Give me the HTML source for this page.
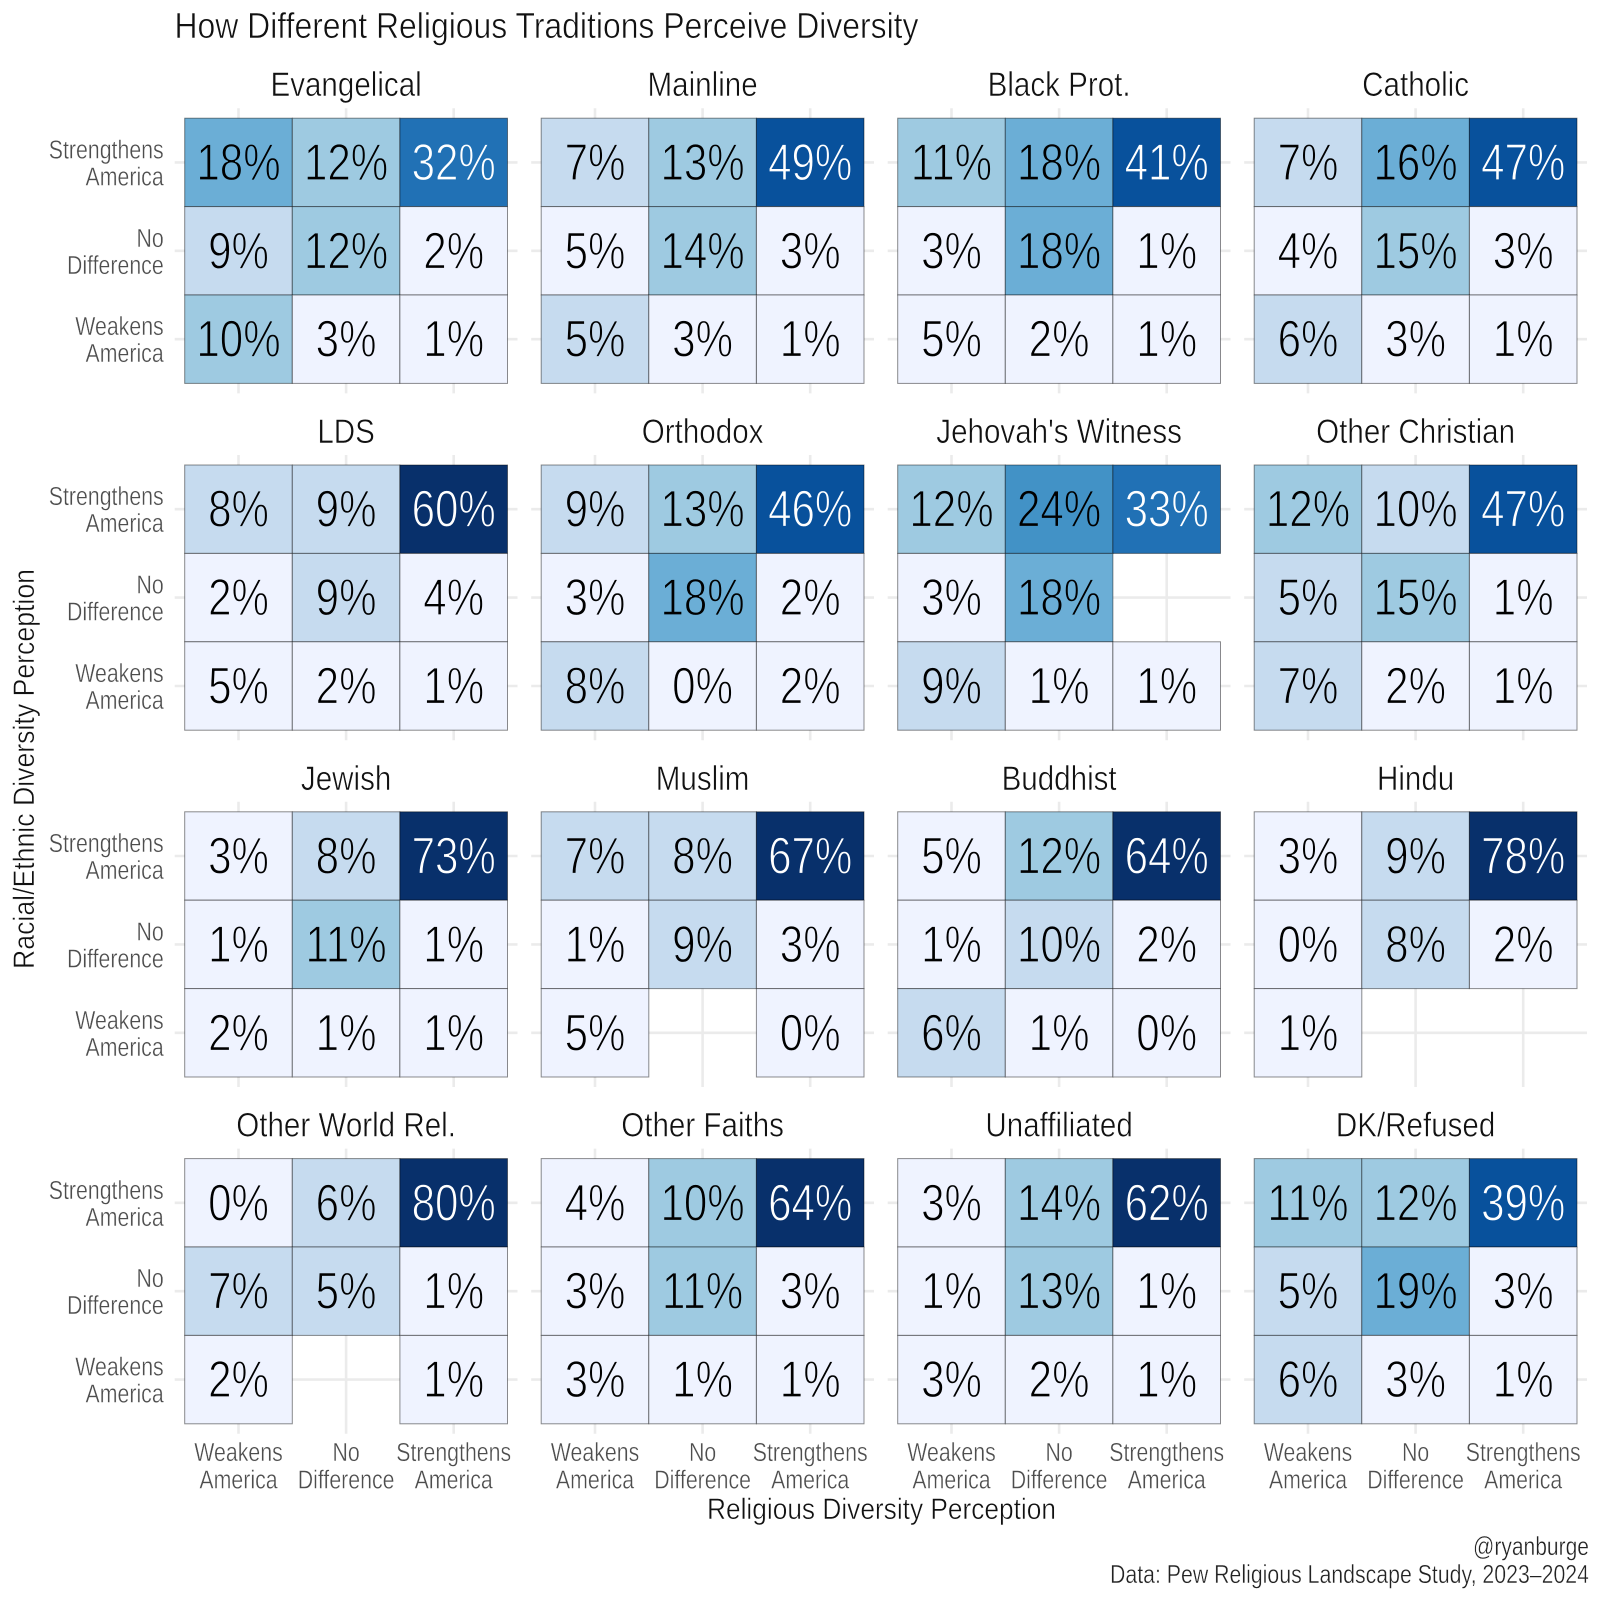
<!DOCTYPE html>
<html lang="en"><head><meta charset="utf-8"><title>How Different Religious Traditions Perceive Diversity</title>
<style>html,body{margin:0;padding:0;background:#fff}svg{display:block}text{font-family:"Liberation Sans",sans-serif}</style>
</head><body>
<svg id="chart" xmlns="http://www.w3.org/2000/svg" width="1600" height="1600" viewBox="0 0 1600 1600">
<rect width="1600" height="1600" fill="#fff"/>
<text x="174.5" y="38" font-size="36" fill="#111" textLength="744" lengthAdjust="spacingAndGlyphs" stroke="#fff" stroke-width=".6">How Different Religious Traditions Perceive Diversity</text>
<text x="881.5" y="1519" font-size="30" fill="#111" text-anchor="middle" textLength="349" lengthAdjust="spacingAndGlyphs" stroke="#fff" stroke-width=".5">Religious Diversity Perception</text>
<text transform="translate(34,769) rotate(-90)" font-size="30" fill="#111" text-anchor="middle" textLength="400" lengthAdjust="spacingAndGlyphs" stroke="#fff" stroke-width=".5">Racial/Ethnic Diversity Perception</text>
<text x="1589" y="1555" font-size="26" fill="#222" text-anchor="end" textLength="116" lengthAdjust="spacingAndGlyphs" stroke="#fff" stroke-width=".4">@ryanburge</text>
<text x="1589" y="1583" font-size="26" fill="#222" text-anchor="end" textLength="479" lengthAdjust="spacingAndGlyphs" stroke="#fff" stroke-width=".4">Data: Pew Religious Landscape Study, 2023–2024</text>
</svg>
<script>
const traditions = ["Evangelical","Mainline","Black Prot.","Catholic","LDS","Orthodox","Jehovah's Witness","Other Christian","Jewish","Muslim","Buddhist","Hindu","Other World Rel.","Other Faiths","Unaffiliated","DK/Refused"];
const xCategories = [["Weakens","America"],["No","Difference"],["Strengthens","America"]];
const yCategories = [["Strengthens","America"],["No","Difference"],["Weakens","America"]];
// Percent values per tradition: rows = racial perception (strengthens, no difference, weakens); columns = religious perception (weakens, no difference, strengthens)
const evangelical = [[18,12,32],[9,12,2],[10.2,3,1]];
const mainline = [[7,13,49],[4.8,14,3],[5.2,3,1]];
const blackProt = [[11,18,41],[3,18,1],[4.8,2,1]];
const catholic = [[7,16,47],[4,14.8,3],[6,3,1]];
const lds = [[8,9,60],[2,9,4],[4.8,2,1]];
const orthodox = [[9,13,46],[3,18,2],[8,0,2]];
const jehovahsWitness = [[12,24,33],[3,18,null],[9,1,1]];
const otherChristian = [[12,9.8,47],[5.2,14.8,1],[7,2,1]];
const jewish = [[3,8,73],[1,11,1],[2,1,1]];
const muslim = [[7,8,67],[1,9,3],[4.8,null,0]];
const buddhist = [[4.8,12,64],[1,9.8,2],[6,1,0]];
const hindu = [[3,9,78],[0,8,2],[1,null,null]];
const otherWorld = [[0,6,80],[7,5.2,1],[2,null,1]];
const otherFaiths = [[4,10.2,64],[3,11,3],[3,1,1]];
const unaffiliated = [[3,14,62],[1,13,1],[3,2,1]];
const dkRefused = [[11,12,39],[5.2,19,3],[6,3,1]];
const panelValues = [evangelical,mainline,blackProt,catholic,lds,orthodox,jehovahsWitness,otherChristian,jewish,muslim,buddhist,hindu,otherWorld,otherFaiths,unaffiliated,dkRefused];
const binBreaks = [5,10,15,20,30,35,50];
const binColors = ["#eff3ff","#c6dbef","#9ecae1","#6baed6","#4292c6","#2171b5","#08519c","#08306b"];

const svg = document.getElementById('chart');
const NS = 'http://www.w3.org/2000/svg';
const panelW = 322.8, panelH = 265.2, cellW = panelW / 3, cellH = panelH / 3, pad = 10;
function panelX(col){ return 184.7 + col * 356.5; }
function panelY(row){ return 118.2 + row * 346.8; }
function xScale(col, j){ return panelX(col) + (j + 0.5) * cellW; }
function yScale(row, i){ return panelY(row) + (i + 0.5) * cellH; }
function fillFor(v){ let k = 0; while (k < binBreaks.length && v >= binBreaks[k]) k++; return binColors[k]; }
function make(tag, props, parent, content){
  const e = document.createElementNS(NS, tag);
  for (const k in props) e.setAttribute(k, props[k]);
  if (content !== undefined) e.textContent = content;
  parent.appendChild(e);
  return e;
}
function scaledText(x, y, size, sx, anchor, color, thin, thinColor, str, parent){
  return make('text', {transform:'translate(' + x + ',' + y + ') scale(' + sx + ',1)', 'font-size':size, 'text-anchor':anchor, fill:color, stroke:thinColor, 'stroke-width':thin}, parent, str);
}
panelValues.forEach(function(values, p){
  const col = p % 4, row = Math.floor(p / 4);
  const g = make('g', {}, svg);
  
  
  const title = scaledText(panelX(col) + panelW / 2, panelY(row) - 22, 34, .87, 'middle', '#111', .55, '#fff', traditions[p], g);
  
  
  for (let j = 0; j < 3; j++) {
    const gridV = make('line', {x1:xScale(col, j), x2:xScale(col, j), y1:panelY(row) - pad, y2:panelY(row) + panelH + pad, stroke:'#ebebeb', 'stroke-width':2.6}, g);
    
    
    const gridH = make('line', {x1:panelX(col) - pad, x2:panelX(col) + panelW + pad, y1:yScale(row, j), y2:yScale(row, j), stroke:'#ebebeb', 'stroke-width':2.6}, g);
    
    
  }
  values.forEach(function(rowVals, i){
    rowVals.forEach(function(v, j){
      if (v === null) return;
      const fill = fillFor(v);
      const cell = make('rect', {x:xScale(col, j) - cellW / 2, y:yScale(row, i) - cellH / 2, width:cellW, height:cellH, fill:fill, stroke:'#000', 'stroke-opacity':.45, 'stroke-width':1}, g);
      
      
    });
  });
  values.forEach(function(rowVals, i){
    rowVals.forEach(function(v, j){
      if (v === null) return;
      const fill = fillFor(v);
      const label = scaledText(xScale(col, j), yScale(row, i) + 17.5, 52, .81, 'middle', v >= 30 ? '#fff' : '#000', 1.2, fill, Math.round(v) + '%', g);
      
      
    });
  });
  if (col === 0) {
    yCategories.forEach(function(lines, i){
      lines.forEach(function(line, n){
        const tick = scaledText(panelX(col) - 21, yScale(row, i) - 4 + n * 27, 26, .82, 'end', '#4d4d4d', .4, '#fff', line, g);
        
        
      });
    });
  }
  if (row === 3) {
    xCategories.forEach(function(lines, j){
      lines.forEach(function(line, n){
        const tick = scaledText(xScale(col, j), 1461 + n * 27.5, 26, .82, 'middle', '#4d4d4d', .4, '#fff', line, g);
        
        
      });
    });
  }
});
</script>
</body></html>
